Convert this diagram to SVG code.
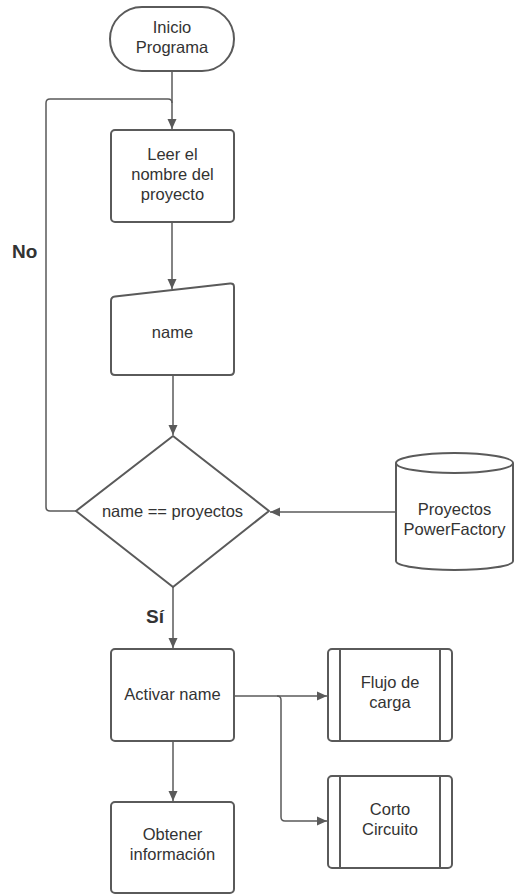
<svg xmlns="http://www.w3.org/2000/svg" width="514" height="895" viewBox="0 0 514 895">
<defs>
<marker id="ah" viewBox="0 0 10 10" refX="10" refY="5" markerWidth="10" markerHeight="10" markerUnits="userSpaceOnUse" orient="auto">
<path d="M0,0.5 L10,5 L0,9.5 Z" fill="#5a5a5a"/>
</marker>
<style>
.s{fill:#fff;stroke:#5a5a5a;stroke-width:2}
.c{fill:none;stroke:#5a5a5a;stroke-width:1.5;stroke-linejoin:round}
.t{font-family:"Liberation Sans",Arial,sans-serif;font-size:16.5px;fill:#333;text-anchor:middle}
.b{font-family:"Liberation Sans",Arial,sans-serif;font-size:19px;font-weight:bold;fill:#333}
</style>
</defs>
<rect width="514" height="895" fill="#fff"/>
<g id="connectors">
<path class="c" d="M172,71 V129" marker-end="url(#ah)"/>
<path class="c" d="M76,511 H50 Q46,511 46,507 V103 Q46,99 50,99 H168 Q172,99 172,103"/>
<path class="c" d="M172,222 V289" marker-end="url(#ah)"/>
<path class="c" d="M173,375 V435" marker-end="url(#ah)"/>
<path class="c" d="M396,512 H270" marker-end="url(#ah)"/>
<path class="c" d="M173,587 V648" marker-end="url(#ah)"/>
<path class="c" d="M234,696 H327" marker-end="url(#ah)"/>
<path class="c" d="M277,696 Q281,696 281,700 V817 Q281,821 285,821 H327" marker-end="url(#ah)"/>
<path class="c" d="M173,741 V801" marker-end="url(#ah)"/>
</g>
<g id="inicio">
<rect class="s" x="110" y="7" width="124" height="64" rx="32"/>
<text class="t" x="172" y="33">Inicio</text>
<text class="t" x="172" y="53">Programa</text>
</g>
<g id="leer">
<rect class="s" x="111" y="130" width="123" height="92" rx="4"/>
<text class="t" x="172.5" y="160">Leer el</text>
<text class="t" x="172.5" y="180">nombre del</text>
<text class="t" x="172.5" y="200">proyecto</text>
</g>
<g id="name">
<path class="s" d="M115,296.5 L230,283.5 Q234,283 234,287 V371 Q234,375 230,375 H115 Q111,375 111,371 V301 Q111,297 115,296.5 Z"/>
<text class="t" x="172.5" y="338">name</text>
</g>
<g id="decision">
<path class="s" d="M173,436 L269,511 L173,587 L76,511 Z" stroke-linejoin="round"/>
<text class="t" x="172.5" y="517">name == proyectos</text>
</g>
<g id="db">
<path class="s" d="M396,463 V561 A58.5,9 0 0 0 513,561 V463"/>
<ellipse class="s" cx="454.5" cy="463" rx="58.5" ry="10"/>
<text class="t" x="454.5" y="515">Proyectos</text>
<text class="t" x="454.5" y="535">PowerFactory</text>
</g>
<g id="activar">
<rect class="s" x="111" y="649" width="123" height="92" rx="4"/>
<text class="t" x="172.5" y="700">Activar name</text>
</g>
<g id="flujo">
<rect class="s" x="328" y="649" width="124" height="92" rx="4"/>
<path class="s" d="M340,649 V741 M440,649 V741"/>
<text class="t" x="390" y="688">Flujo de</text>
<text class="t" x="390" y="708">carga</text>
</g>
<g id="corto">
<rect class="s" x="328" y="776" width="124" height="92" rx="4"/>
<path class="s" d="M340,776 V868 M440,776 V868"/>
<text class="t" x="390" y="815">Corto</text>
<text class="t" x="390" y="835">Circuito</text>
</g>
<g id="obtener">
<rect class="s" x="111" y="802" width="123" height="91" rx="4"/>
<text class="t" x="172.5" y="840">Obtener</text>
<text class="t" x="172.5" y="860">información</text>
</g>
<text class="b" x="12" y="258">No</text>
<text class="b" x="146" y="623">Sí</text>
</svg>
